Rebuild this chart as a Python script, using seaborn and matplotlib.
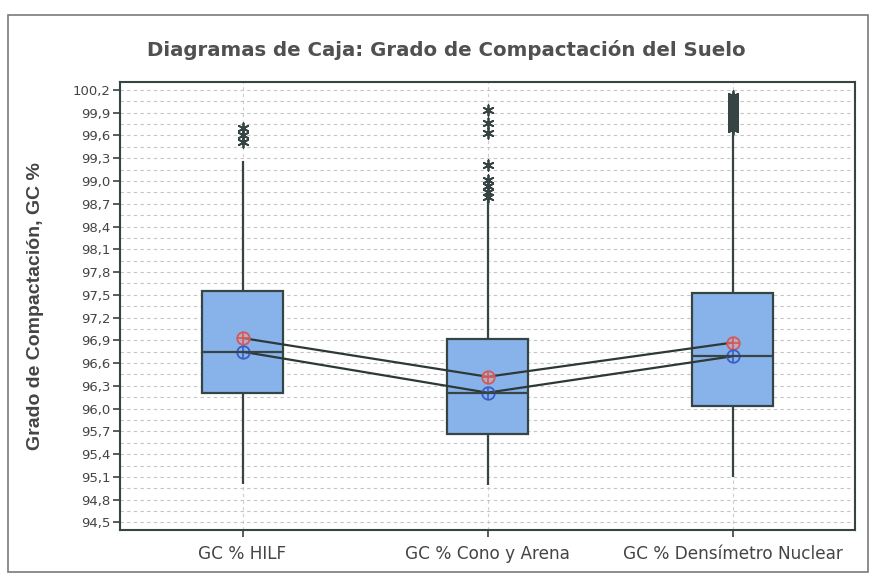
import matplotlib
matplotlib.use("Agg")
import matplotlib.pyplot as plt
from matplotlib.ticker import FixedLocator, FuncFormatter
from matplotlib.patches import Rectangle
import numpy as np
import pandas as pd
import seaborn as sns

# --- data -----------------------------------------------------------------
categories = ["GC % HILF", "GC % Cono y Arena", "GC % Densímetro Nuclear"]

whisker_low = [95.01, 94.99, 95.10]
q1_values = [96.21, 95.66, 96.03]
median_values = [96.75, 96.21, 96.69]
q3_values = [97.55, 96.92, 97.52]
whisker_high = [99.27, 98.75, 99.66]
mean_values = [96.93, 96.42, 96.87]

outliers_hilf = [99.70, 99.61, 99.52]
outliers_cono = [99.94, 99.77, 99.63, 99.21, 99.01, 98.93, 98.86, 98.79]
outliers_nuclear = [100.12, 100.09, 100.07, 100.04, 100.01, 99.98, 99.96,
                    99.93, 99.91, 99.88, 99.86, 99.84, 99.81, 99.79, 99.77,
                    99.75, 99.73, 99.71, 99.69]

y_ticks = [94.5, 94.8, 95.1, 95.4, 95.7, 96.0, 96.3, 96.6, 96.9, 97.2,
           97.5, 97.8, 98.1, 98.4, 98.7, 99.0, 99.3, 99.6, 99.9, 100.2]

title = "Diagramas de Caja: Grado de Compactación del Suelo"
y_label = "Grado de Compactación, GC %"

# --- styling ----------------------------------------------------------------
box_color = "#88B3EA"
edge_color = "#364444"
line_color = "#2E3838"
mean_color = "#D05A5A"
median_color = "#3A5CC8"
text_color = "#444444"

# Five-number summaries expanded so that the quartiles land exactly on the
# stated values (whiskers drawn to min/max of these points).
rows = []
for cat, lo, a, m, b, hi in zip(categories, whisker_low, q1_values,
                                median_values, q3_values, whisker_high):
    for v in (lo, a, a, m, b, b, hi):
        rows.append({"grupo": cat, "gc": v})
box_df = pd.DataFrame(rows)

out_rows = []
for cat, vals in zip(categories, [outliers_hilf, outliers_cono, outliers_nuclear]):
    for v in vals:
        out_rows.append({"grupo": cat, "gc": v})
out_df = pd.DataFrame(out_rows)

sns.set_theme(style="white")
plt.rcParams["font.family"] = ["DejaVu Sans"]

fig = plt.figure(figsize=(8.77, 5.77), dpi=100)
ax = fig.add_axes([120 / 877, 1 - 530 / 577, (855 - 120) / 877, (530 - 82) / 577])

sns.boxplot(data=box_df, x="grupo", y="gc", order=categories, whis=(0, 100),
            width=0.33, color=box_color, saturation=1, linecolor=edge_color,
            linewidth=1.6, showfliers=False, showcaps=False, ax=ax)

sns.stripplot(data=out_df, x="grupo", y="gc", order=categories, jitter=False,
              marker=(6, 2, 0), size=7.5, color=edge_color, linewidth=1.3,
              ax=ax, zorder=4)

# mean and median connecting lines with circle markers
sns.pointplot(x=categories, y=mean_values, order=categories, errorbar=None,
              color=line_color, markers="o", linestyles="-", linewidth=1.6,
              markersize=9, markerfacecolor=(0.92, 0.62, 0.62, 0.55),
              markeredgecolor=mean_color, markeredgewidth=1.3, ax=ax)
sns.pointplot(x=categories, y=median_values, order=categories, errorbar=None,
              color=line_color, markers="o", linestyles="-", linewidth=1.6,
              markersize=9, markerfacecolor="none",
              markeredgecolor=median_color, markeredgewidth=1.3, ax=ax)
sns.pointplot(x=categories, y=mean_values, order=categories, errorbar=None,
              color=mean_color, markers="+", linestyles="none",
              markersize=9, markeredgewidth=1.2, ax=ax)
sns.pointplot(x=categories, y=median_values, order=categories, errorbar=None,
              color=median_color, markers="+", linestyles="none",
              markersize=9, markeredgewidth=1.2, ax=ax)

# --- axes -------------------------------------------------------------------
ax.set_xlim(-0.5, 2.5)
ax.set_ylim(94.40, 100.305)
ax.yaxis.set_major_locator(FixedLocator(y_ticks))
minor = [(a + b) / 2 for a, b in zip(y_ticks[:-1], y_ticks[1:])] + [y_ticks[-1] + 0.15]
ax.yaxis.set_minor_locator(FixedLocator(minor))
ax.yaxis.set_major_formatter(FuncFormatter(lambda v, p: f"{v:.1f}".replace(".", ",")))

ax.set_axisbelow(True)
ax.grid(True, axis="y", which="both", linestyle=(0, (3, 3)), color="#C4C4C4", linewidth=0.8)
ax.grid(True, axis="x", which="major", linestyle=(0, (3, 3)), color="#CCCCCC", linewidth=0.8)

ax.tick_params(axis="y", which="major", direction="out", length=5, width=1.2,
               color=edge_color, labelsize=9.5, labelcolor=text_color, pad=2, left=True)
ax.tick_params(axis="y", which="minor", length=0)
ax.tick_params(axis="x", direction="out", length=5, width=1.2, color=edge_color,
               labelsize=12.2, labelcolor=text_color, pad=6, bottom=True)

for s in ax.spines.values():
    s.set_color(edge_color)
    s.set_linewidth(1.5)

ax.set_xlabel("")
ax.set_ylabel(y_label, fontsize=14, fontweight="bold", color=text_color,
              family="Liberation Sans", labelpad=10)
ax.yaxis.set_label_coords(-0.104, 0.5)

fig.text(446 / 877, 1 - 50 / 577, title, ha="center", va="center",
         fontsize=14.2, fontweight="bold", color="#505050")

# outer frame around the chart
fig.patches.append(Rectangle((8 / 877, 1 - 572 / 577), 860 / 877, 557 / 577,
                             transform=fig.transFigure, fill=False,
                             edgecolor="#7A7A7A", linewidth=1.2))

fig.savefig("out.png", dpi=100)
